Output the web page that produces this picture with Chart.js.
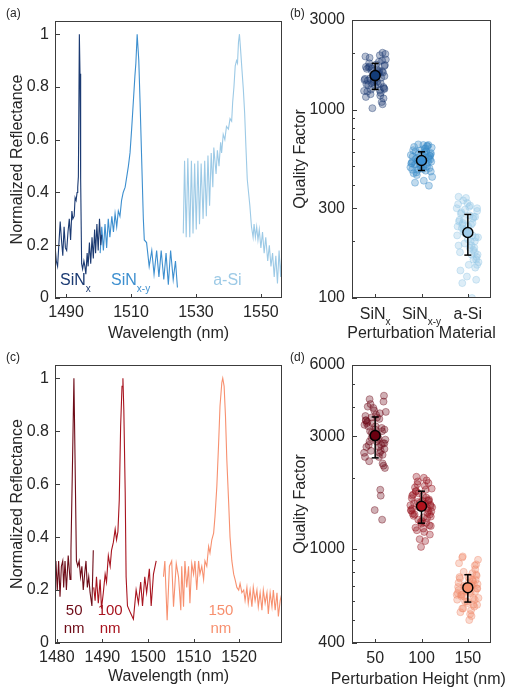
<!DOCTYPE html>
<html>
<head>
<meta charset="utf-8">
<script src="https://cdn.jsdelivr.net/npm/chart.js@4.4.0/dist/chart.umd.min.js"></script>
<style>
  body { margin: 0; background: #fff; }
  #fig { position: relative; width: 515px; height: 693px; font-family: 'Liberation Sans', Arial, sans-serif; }
  canvas { position: absolute; }
  .tag { position: absolute; font-size: 12px; line-height: 14px; color: #262626; }
</style>
</head>
<body>
<div id="fig">
  <canvas id="ca" width="290" height="345" style="left:0;top:0"></canvas>
  <canvas id="cb" width="225" height="345" style="left:290px;top:0"></canvas>
  <canvas id="cc" width="290" height="348" style="left:0;top:345px"></canvas>
  <canvas id="cd" width="225" height="348" style="left:290px;top:345px"></canvas>
  <div class="tag" style="left:6px;top:6px">(a)</div>
  <div class="tag" style="left:290px;top:6px">(b)</div>
  <div class="tag" style="left:6px;top:350px">(c)</div>
  <div class="tag" style="left:290px;top:350px">(d)</div>
</div>
<script>
// (a) spectra for the three perturbation materials
const sinxX = [1486.6, 1487.0, 1487.4, 1488.2, 1488.6, 1489.0, 1489.4, 1489.8, 1490.2, 1490.6, 1491.0, 1491.4, 1491.8, 1492.1, 1492.5, 1492.8, 1493.1, 1493.4, 1493.6, 1493.8, 1494.1, 1494.3, 1494.5, 1494.8, 1495.1, 1495.5, 1495.8, 1496.1, 1496.5, 1496.8, 1497.2, 1497.6, 1498.0, 1498.4, 1498.8, 1499.1, 1499.5, 1499.9, 1500.3, 1500.7, 1501.0];
const sinxY = [0.20, 0.14, 0.12, 0.29, 0.22, 0.16, 0.27, 0.19, 0.18, 0.25, 0.30, 0.22, 0.33, 0.30, 0.31, 0.38, 0.37, 0.40, 0.42, 0.46, 1.00, 0.85, 0.45, 0.13, 0.11, 0.14, 0.12, 0.09, 0.17, 0.12, 0.21, 0.13, 0.23, 0.15, 0.26, 0.17, 0.28, 0.18, 0.30, 0.20, 0.24];
const sinxyX = [1500.5, 1501.0, 1501.5, 1502.0, 1502.5, 1503.0, 1503.5, 1504.1, 1504.6, 1505.1, 1505.6, 1506.1, 1506.6, 1507.1, 1507.6, 1508.2, 1508.7, 1509.2, 1509.7, 1510.2, 1510.7, 1511.2, 1511.5, 1511.9, 1512.4, 1512.8, 1513.3, 1513.8, 1514.1, 1514.8, 1515.6, 1516.4, 1517.1, 1517.9, 1518.6, 1519.3, 1520.1, 1520.8, 1521.5, 1522.2, 1523.0, 1523.7, 1524.3];
const sinxyY = [0.17, 0.27, 0.18, 0.28, 0.19, 0.30, 0.23, 0.31, 0.25, 0.32, 0.27, 0.33, 0.31, 0.37, 0.40, 0.42, 0.46, 0.50, 0.55, 0.64, 0.74, 0.84, 0.89, 1.00, 0.90, 0.74, 0.52, 0.30, 0.22, 0.21, 0.12, 0.18, 0.09, 0.18, 0.08, 0.18, 0.07, 0.17, 0.05, 0.18, 0.07, 0.14, 0.04];
const asiX = [1526.1, 1526.5, 1527.0, 1527.5, 1528.1, 1528.6, 1529.1, 1529.6, 1530.1, 1530.6, 1531.1, 1531.6, 1532.2, 1532.7, 1533.2, 1533.7, 1534.2, 1534.7, 1535.2, 1535.5, 1536.2, 1536.6, 1537.1, 1537.6, 1537.9, 1538.4, 1538.9, 1539.4, 1540.0, 1540.5, 1541.0, 1541.3, 1541.7, 1542.1, 1542.5, 1542.8, 1543.1, 1543.4, 1543.7, 1544.2, 1544.6, 1545.0, 1545.4, 1545.8, 1546.2, 1546.6, 1547.1, 1547.6, 1547.9, 1548.3, 1548.7, 1549.1, 1549.5, 1550.0, 1550.5, 1551.0, 1551.5, 1552.1, 1552.6, 1553.1, 1553.6, 1554.1, 1554.6, 1555.1, 1555.6, 1556.1, 1556.5];
const asiY = [0.245, 0.52, 0.23, 0.53, 0.23, 0.52, 0.245, 0.51, 0.26, 0.52, 0.28, 0.51, 0.30, 0.52, 0.31, 0.54, 0.35, 0.55, 0.42, 0.57, 0.47, 0.56, 0.50, 0.59, 0.55, 0.62, 0.60, 0.65, 0.64, 0.68, 0.67, 0.74, 0.80, 0.88, 0.90, 0.89, 0.97, 1.00, 0.95, 0.86, 0.79, 0.70, 0.57, 0.45, 0.40, 0.35, 0.27, 0.23, 0.28, 0.23, 0.27, 0.22, 0.26, 0.19, 0.25, 0.17, 0.23, 0.14, 0.20, 0.12, 0.17, 0.08, 0.16, 0.055, 0.18, 0.08, 0.19];

// (c) spectra for the three perturbation heights
const h50X = [1479.8, 1480.1, 1480.4, 1480.7, 1481.0, 1481.3, 1481.5, 1481.8, 1482.1, 1482.5, 1482.9, 1483.1, 1483.45, 1483.75, 1484.0, 1484.3, 1484.6, 1484.9, 1485.2, 1485.5, 1485.8, 1486.1, 1486.4, 1486.7, 1487.0, 1487.3, 1487.7, 1488.0];
const h50Y = [0.31, 0.20, 0.31, 0.175, 0.29, 0.31, 0.21, 0.31, 0.20, 0.33, 0.24, 0.35, 0.69, 1.00, 0.69, 0.31, 0.29, 0.31, 0.25, 0.29, 0.20, 0.26, 0.31, 0.21, 0.25, 0.19, 0.14, 0.35];
const h100X = [1488.1, 1488.4, 1488.7, 1489.1, 1489.5, 1489.8, 1490.2, 1490.6, 1490.9, 1491.3, 1491.7, 1492.0, 1492.4, 1492.8, 1493.1, 1493.4, 1493.7, 1494.0, 1494.3, 1494.5, 1494.7, 1495.0, 1495.2, 1495.5, 1496.0, 1496.8, 1497.4, 1497.9, 1498.4, 1498.8, 1499.3, 1499.7, 1500.3, 1500.7, 1501.2, 1501.8];
const h100Y = [0.21, 0.16, 0.25, 0.15, 0.24, 0.13, 0.19, 0.26, 0.23, 0.33, 0.29, 0.35, 0.38, 0.43, 0.39, 0.42, 0.54, 0.82, 0.97, 1.00, 0.88, 0.57, 0.25, 0.14, 0.12, 0.09, 0.20, 0.15, 0.23, 0.14, 0.25, 0.19, 0.28, 0.14, 0.26, 0.31];
const h150X = [1503.4, 1503.7, 1504.2, 1504.7, 1505.2, 1505.6, 1506.2, 1506.7, 1507.2, 1507.4, 1507.8, 1508.1, 1508.5, 1508.9, 1509.2, 1509.6, 1510.0, 1510.3, 1510.7, 1511.1, 1511.4, 1511.8, 1512.2, 1512.5, 1512.9, 1513.3, 1513.6, 1514.0, 1514.4, 1514.7, 1515.1, 1515.5, 1515.8, 1516.2, 1516.4, 1516.7, 1517.0, 1517.3, 1517.7, 1518.0, 1518.4, 1518.8, 1519.1, 1519.5, 1519.9, 1520.2, 1520.6, 1521.0, 1521.3, 1521.7, 1522.0, 1522.4, 1522.8, 1523.1, 1523.5, 1523.9, 1524.2, 1524.6, 1525.0, 1525.3, 1525.7, 1526.1, 1526.4, 1526.8, 1527.2, 1527.5, 1527.9, 1528.3, 1528.6, 1529.0, 1529.4];
const h150Y = [0.25, 0.31, 0.086, 0.29, 0.31, 0.137, 0.30, 0.25, 0.124, 0.29, 0.137, 0.31, 0.21, 0.29, 0.15, 0.30, 0.26, 0.31, 0.20, 0.31, 0.26, 0.29, 0.24, 0.31, 0.29, 0.365, 0.34, 0.39, 0.415, 0.478, 0.59, 0.756, 0.895, 0.984, 1.00, 0.97, 0.857, 0.69, 0.53, 0.40, 0.31, 0.26, 0.24, 0.21, 0.20, 0.225, 0.19, 0.20, 0.16, 0.21, 0.15, 0.20, 0.137, 0.21, 0.16, 0.20, 0.137, 0.19, 0.124, 0.20, 0.15, 0.19, 0.11, 0.19, 0.137, 0.20, 0.124, 0.19, 0.10, 0.16, 0.19];

// (b) quality factors per material, (d) per height
const materials = ['SiNx', 'SiNx-y', 'a-Si'];
const heights = ['50', '100', '150'];
const jitter = [-0.05, 0.12, -0.18, 0.2, 0.02, -0.22, 0.15, -0.1, 0.08, -0.15, 0.22, -0.02, 0.1, -0.2, 0.05, 0.18, -0.08, 0.13, -0.12, 0.0, 0.2, -0.17, 0.07, -0.04, 0.16, -0.23, 0.11, -0.07, 0.03, 0.19, -0.13, 0.09, -0.19, 0.14, -0.01, 0.23, -0.09, 0.04, -0.16, 0.17, -0.06, 0.21, -0.11, 0.06, -0.21, 0.12, 0.01, -0.14, 0.18, -0.03, 0.08, -0.2, 0.15, -0.08, 0.1, -0.24, 0.2, -0.12, 0.04, 0.16];
const qSinx = [1520, 1380, 1650, 1290, 1740, 1460, 1830, 1210, 1590, 1350, 1980, 1420, 1270, 1690, 1550, 1150, 1620, 1480, 1890, 1330, 1710, 1250, 1560, 1400, 2010, 1440, 1190, 1660, 1520, 1300, 1770, 1610, 1370, 1100, 1500, 1850, 1280, 1640, 1430, 1580, 1020, 1730, 1470, 1360, 1920, 1230, 1540, 1680, 1320, 1450, 1800, 1170, 1600, 1390, 1950, 1260, 1510, 1700, 1410, 1070];
const qSinxy = [540, 500, 610, 470, 580, 520, 650, 450, 560, 510, 630, 490, 600, 530, 420, 570, 480, 640, 550, 505, 590, 460, 620, 535, 395, 575, 515, 655, 485, 545, 600, 475, 565, 525, 610, 440, 555, 500, 635, 490, 585, 530, 465, 595, 520, 645, 545, 410, 570, 505, 625, 480, 560, 535, 600, 495, 580, 515, 650, 550];
const qAsi = [220, 180, 260, 300, 150, 240, 200, 330, 170, 280, 210, 130, 250, 190, 310, 160, 230, 270, 120, 205, 290, 175, 245, 340, 145, 215, 265, 195, 305, 165, 235, 100, 255, 185, 320, 155, 225, 275, 140, 210, 295, 170, 250, 200, 315, 160, 240, 285, 125, 230, 190, 345, 175, 260, 215, 300, 150, 245, 185, 270];
const q50 = [3000, 2600, 3400, 2800, 3700, 2450, 3150, 4100, 2700, 3300, 2900, 3850, 2550, 3500, 3050, 2250, 3600, 2750, 4300, 3200, 2650, 3450, 2950, 3950, 2500, 3350, 1780, 3100, 2850, 4450, 2350, 3550, 2700, 3250, 1460, 3800, 2600, 3000, 4000, 2800, 3400, 2200, 3150, 2900, 3650, 1680, 3300, 2750, 4200, 3050, 2450, 3500, 1330, 2950, 3750, 2550, 3200, 2850, 3600, 2300];
const q100 = [1500, 1350, 1700, 1250, 1600, 1450, 1900, 1200, 1550, 1400, 1800, 1300, 1650, 1480, 2000, 1150, 1580, 1420, 1750, 1280, 1520, 1380, 1850, 1100, 1620, 1460, 1950, 1330, 1680, 1540, 1230, 1780, 1410, 1600, 1020, 1500, 1880, 1360, 1560, 1260, 1720, 1440, 2020, 1180, 1640, 1490, 1310, 1820, 1400, 1570, 1080, 1680, 1450, 1930, 1290, 1530, 1370, 1760, 1220, 1600];
const q150 = [690, 620, 760, 580, 720, 650, 850, 560, 700, 640, 900, 600, 740, 670, 530, 780, 630, 710, 920, 590, 680, 750, 550, 660, 820, 610, 730, 690, 500, 770, 640, 700, 870, 570, 680, 620, 800, 660, 540, 740, 600, 710, 930, 650, 690, 580, 760, 630, 860, 670, 520, 720, 610, 700, 790, 640, 680, 560, 750, 660];
const meanB = [1520, 538, 223];
const lowB = [1283, 476, 169];
const highB = [1765, 598, 278];
const meanD = [3016, 1516, 686];
const lowD = [2428, 1285, 596];
const highD = [3617, 1755, 778];

// axis ticks
const ticksAx = [1490, 1510, 1530, 1550];
const ticksCx = [1480, 1490, 1500, 1510, 1520];
const ticksRefl = [0, 0.2, 0.4, 0.6, 0.8, 1];
const ticksQB = [100, 200, 300, 400, 500, 600, 700, 800, 900, 1000, 2000, 3000];
const majorQB = [100, 300, 1000, 3000];
const ticksQD = [400, 500, 600, 700, 800, 900, 1000, 2000, 3000, 4000, 5000, 6000];
const majorQD = [400, 1000, 3000, 6000];

const FONT = "'Liberation Sans', Arial, sans-serif";
Chart.defaults.font.family = FONT;
Chart.defaults.font.size = 16;
Chart.defaults.color = '#262626';
Chart.defaults.animation = false;
Chart.defaults.plugins.legend.display = false;
Chart.defaults.plugins.tooltip.enabled = false;

// box around the plot with inward tick marks (MATLAB style)
const axisBox = {
  id: 'axisBox',
  afterDatasetsDraw(chart) {
    const { ctx, chartArea: a, scales: { x, y } } = chart;
    ctx.save();
    ctx.strokeStyle = '#3c3c3c';
    ctx.lineWidth = 1;
    ctx.strokeRect(a.left + 0.5, a.top + 0.5, a.right - a.left - 1, a.bottom - a.top - 1);
    ctx.beginPath();
    x.ticks.forEach(t => {
      const px = Math.round(x.getPixelForValue(t.value)) + 0.5;
      ctx.moveTo(px, a.bottom);
      ctx.lineTo(px, a.bottom - 4);
    });
    y.ticks.forEach(t => {
      const py = Math.round(y.getPixelForValue(t.value)) + 0.5;
      ctx.moveTo(a.left, py);
      ctx.lineTo(a.left + (t.label === '' ? 3 : 5), py);
    });
    ctx.stroke();
    ctx.restore();
  }
};

// text with subscripts, placed in data units (or px below the axis)
const notes = {
  id: 'notes',
  afterDatasetsDraw(chart, args, opts) {
    const { ctx, chartArea: a, scales: { x, y } } = chart;
    (opts.items || []).forEach(it => {
      const size = it.size || 16;
      const px = x.getPixelForValue(it.x);
      const py = it.below !== undefined ? a.bottom + it.below : y.getPixelForValue(it.y);
      ctx.save();
      ctx.fillStyle = it.color || '#262626';
      ctx.textBaseline = 'alphabetic';
      const widths = it.parts.map(p => {
        ctx.font = (p[1] ? Math.round(size * 0.65) : size) + 'px ' + FONT;
        return ctx.measureText(p[0]).width;
      });
      let cx = it.align === 'center' ? px - widths.reduce((s, w) => s + w, 0) / 2 : px;
      it.parts.forEach((p, i) => {
        ctx.font = (p[1] ? Math.round(size * 0.65) : size) + 'px ' + FONT;
        ctx.fillText(p[0], cx, p[1] ? py + size * 0.4 : py);
        cx += widths[i];
      });
      ctx.restore();
    });
  }
};

function lineSet(xs, ys, color) {
  return {
    data: xs.map((v, i) => ({ x: v, y: ys[i] })),
    showLine: true,
    pointRadius: 0,
    borderColor: color,
    borderWidth: 1.1,
    tension: 0
  };
}

function spectrumScales(xMin, xMax, xTicks, xH, titleBottom) {
  return {
    x: {
      type: 'linear', min: xMin, max: xMax,
      afterBuildTicks: s => { s.ticks = xTicks.map(v => ({ value: v })); },
      afterFit: s => { s.height = xH; },
      grid: { display: false, drawTicks: false },
      border: { display: false },
      ticks: { padding: 5, autoSkip: false, maxRotation: 0, callback: v => String(v) },
      title: { display: true, text: 'Wavelength (nm)', padding: { top: 0, bottom: titleBottom } }
    },
    y: {
      type: 'linear', min: 0, max: 1.05,
      afterBuildTicks: s => { s.ticks = ticksRefl.map(v => ({ value: v })); },
      afterFit: s => { s.width = 55; },
      grid: { display: false, drawTicks: false },
      border: { display: false },
      ticks: { padding: 6, autoSkip: false, callback: v => String(v) },
      title: { display: true, text: 'Normalized Reflectance', padding: { top: 8, bottom: 0 } }
    }
  };
}

function qualityScales(yMin, yMax, yTicks, yMajor, xH, showX, xLabels) {
  return {
    x: {
      type: 'linear', min: -0.5, max: 2.5,
      afterBuildTicks: s => { s.ticks = [0, 1, 2].map(v => ({ value: v })); },
      afterFit: s => { s.height = xH; },
      grid: { display: false, drawTicks: false },
      border: { display: false },
      ticks: { display: showX, padding: 6, autoSkip: false, maxRotation: 0, callback: v => xLabels[v] }
    },
    y: {
      type: 'logarithmic', min: yMin, max: yMax,
      afterBuildTicks: s => { s.ticks = yTicks.map(v => ({ value: v })); },
      afterFit: s => { s.width = 62; },
      grid: { display: false, drawTicks: false },
      border: { display: false },
      ticks: { padding: 7, autoSkip: false, callback: v => yMajor.includes(v) ? String(v) : '' },
      title: { display: true, text: 'Quality Factor', padding: { top: 1, bottom: 0 } }
    }
  };
}

function qualitySets(groups, means, lows, highs, cloudColors, meanColors) {
  const meanSets = means.map((m, i) => ({
    data: [{ x: i, y: m }],
    pointRadius: 5,
    backgroundColor: meanColors[i],
    borderColor: '#000',
    borderWidth: 1.5
  }));
  const errSets = means.map((m, i) => ({
    data: [{ x: i, y: lows[i] }, { x: i, y: highs[i] }],
    showLine: true,
    borderColor: '#000',
    borderWidth: 1.5,
    pointStyle: 'line',
    pointRadius: 3.5,
    pointBorderColor: '#000',
    pointBorderWidth: 1.5
  }));
  const cloudSets = groups.map((arr, i) => ({
    data: arr.map((v, k) => ({ x: i + jitter[k], y: v })),
    pointRadius: 3.5,
    backgroundColor: 'rgba(' + cloudColors[i] + ',0.32)',
    borderColor: 'rgba(' + cloudColors[i] + ',0.5)',
    borderWidth: 0.8
  }));
  return meanSets.concat(errSets, cloudSets);
}

// (a)
new Chart(document.getElementById('ca'), {
  type: 'scatter',
  data: {
    datasets: [
      lineSet(sinxX, sinxY, '#1b3a72'),
      lineSet(sinxyX, sinxyY, '#3d8fcf'),
      lineSet(asiX, asiY, '#9dcae6')
    ]
  },
  options: {
    responsive: false,
    layout: { padding: { top: 21, right: 8, left: 0, bottom: 0 } },
    scales: spectrumScales(1486.6, 1556.5, ticksAx, 47, 2),
    plugins: {
      notes: {
        items: [
          { parts: [['SiN', false], ['x', true]], x: 1488.15, y: 0.048, color: '#1b3a72' },
          { parts: [['SiN', false], ['x-y', true]], x: 1503.85, y: 0.048, color: '#3d8fcf' },
          { parts: [['a-Si', false]], x: 1535.3, y: 0.048, color: '#9dcae6' }
        ]
      }
    }
  },
  plugins: [axisBox, notes]
});

// (b)
new Chart(document.getElementById('cb'), {
  type: 'scatter',
  data: {
    datasets: qualitySets([qSinx, qSinxy, qAsi], meanB, lowB, highB,
      ['30,60,115', '60,140,200', '150,200,230'],
      ['#133c78', '#3d90d2', '#9fcbe8'])
  },
  options: {
    responsive: false,
    layout: { padding: { top: 20, right: 24, left: 0, bottom: 0 } },
    scales: qualityScales(100, 3000, ticksQB, majorQB, 47, false, materials),
    plugins: {
      notes: {
        items: [
          { parts: [['SiN', false], ['x', true]], x: 0, below: 21, align: 'center' },
          { parts: [['SiN', false], ['x-y', true]], x: 1, below: 21, align: 'center' },
          { parts: [['a-Si', false]], x: 2, below: 21, align: 'center' },
          { parts: [['Perturbation Material', false]], x: 1, below: 40, align: 'center' }
        ]
      }
    }
  },
  plugins: [axisBox, notes]
});

// (c)
new Chart(document.getElementById('cc'), {
  type: 'scatter',
  data: {
    datasets: [
      lineSet(h50X, h50Y, '#6e0c18'),
      lineSet(h100X, h100Y, '#a8141f'),
      lineSet(h150X, h150Y, '#f7906f')
    ]
  },
  options: {
    responsive: false,
    layout: { padding: { top: 20, right: 8, left: 0, bottom: 0 } },
    scales: spectrumScales(1479.6, 1529.4, ticksCx, 50, 7),
    plugins: {
      notes: {
        items: [
          { parts: [['50', false]], x: 1483.8, y: 0.105, color: '#6e0c18', align: 'center', size: 15 },
          { parts: [['nm', false]], x: 1483.8, y: 0.036, color: '#6e0c18', align: 'center', size: 15 },
          { parts: [['100', false]], x: 1491.7, y: 0.105, color: '#a8141f', align: 'center', size: 15 },
          { parts: [['nm', false]], x: 1491.7, y: 0.036, color: '#a8141f', align: 'center', size: 15 },
          { parts: [['150', false]], x: 1516.0, y: 0.105, color: '#f7906f', align: 'center', size: 15 },
          { parts: [['nm', false]], x: 1516.0, y: 0.036, color: '#f7906f', align: 'center', size: 15 }
        ]
      }
    }
  },
  plugins: [axisBox, notes]
});

// (d)
new Chart(document.getElementById('cd'), {
  type: 'scatter',
  data: {
    datasets: qualitySets([q50, q100, q150], meanD, lowD, highD,
      ['110,10,25', '150,20,30', '240,140,110'],
      ['#6b0010', '#b0121c', '#f7906c'])
  },
  options: {
    responsive: false,
    layout: { padding: { top: 20, right: 24, left: 0, bottom: 0 } },
    scales: qualityScales(400, 6000, ticksQD, majorQD, 50, true, heights),
    plugins: {
      notes: {
        items: [
          { parts: [['Perturbation Height (nm)', false]], x: 0.93, below: 41, align: 'center' }
        ]
      }
    }
  },
  plugins: [axisBox, notes]
});
</script>
</body>
</html>
